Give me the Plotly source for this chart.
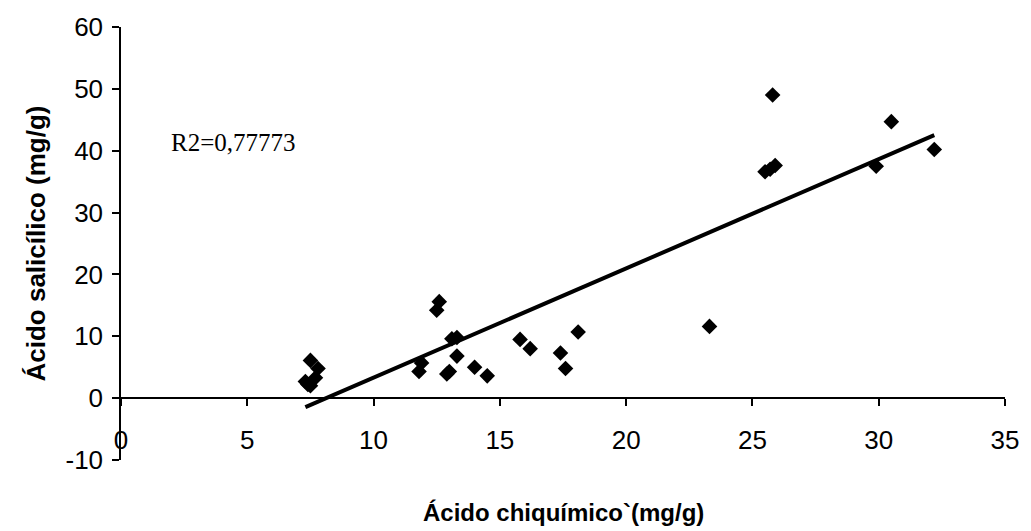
import numpy as np
import plotly.graph_objects as go

# Data
shikimic = [7.3, 7.4, 7.5, 7.7, 7.5, 7.8, 11.8, 11.9, 12.5, 12.6, 12.9, 13.0,
            13.1, 13.3, 13.3, 14.0, 14.5, 15.8, 16.2, 17.4, 17.6, 18.1, 23.3,
            25.5, 25.7, 25.8, 25.9, 29.9, 30.5, 32.2]
salicylic = [2.7, 2.2, 2.0, 3.3, 6.1, 4.8, 4.3, 5.7, 14.2, 15.6, 3.9, 4.3,
             9.6, 9.8, 6.8, 5.0, 3.6, 9.5, 8.0, 7.3, 4.8, 10.7, 11.6,
             36.6, 37.0, 49.0, 37.6, 37.5, 44.7, 40.2]
r2_label = "R2=0,77773"
x_ticks = [0, 5, 10, 15, 20, 25, 30, 35]
y_ticks = [-10, 0, 10, 20, 30, 40, 50, 60]
y_ticktext = ["-10", "0", "10", "20", "30", "40", "50", "60"]

xa = np.array(shikimic)
ya = np.array(salicylic)
slope, intercept = np.polyfit(xa, ya, 1)
fit_x = np.array([xa.min(), xa.max()])
fit_y = slope * fit_x + intercept

fig = go.Figure()
fig.add_trace(go.Scatter(
    x=fit_x, y=fit_y, mode="lines",
    line=dict(color="black", width=4), showlegend=False, hoverinfo="skip"))
fig.add_trace(go.Scatter(
    x=shikimic, y=salicylic, mode="markers",
    marker=dict(symbol="diamond", size=12, color="black"),
    showlegend=False))

fig.add_annotation(x=1.9, y=41.3, xref="x", yref="y", text=r2_label,
                   showarrow=False, xanchor="left", yanchor="middle",
                   font=dict(family="Liberation Serif", size=25, color="black"))

fig.add_annotation(x=0.5, y=0, xref="paper", yref="paper", yshift=-52,
                   text="<b>Ácido chiquímico`(mg/g)</b>", showarrow=False,
                   xanchor="center", yanchor="middle",
                   font=dict(family="Liberation Sans", size=24, color="black"))
fig.add_annotation(x=0, y=0.5, xref="paper", yref="paper", xshift=-86,
                   text="<b>Ácido salicílico (mg/g)</b>", showarrow=False,
                   textangle=-90, xanchor="center", yanchor="middle",
                   font=dict(family="Liberation Sans", size=26, color="black"))

fig.update_layout(
    width=1031, height=531,
    margin=dict(l=121, r=21, t=21, b=71),
    paper_bgcolor="white", plot_bgcolor="white",
    font=dict(family="Liberation Sans", size=26, color="black"),
    xaxis=dict(range=[0, 35], tickvals=x_ticks, showgrid=False, zeroline=False,
               showline=True, linecolor="black", linewidth=1.5,
               ticks="outside", ticklen=7, tickcolor="black", tickwidth=1.5,
               anchor="free", position=1/7, ticklabelstandoff=12),
    yaxis=dict(range=[-10, 60], tickvals=y_ticks, ticktext=y_ticktext,
               showgrid=False, zeroline=False,
               showline=True, linecolor="black", linewidth=1.5,
               ticks="outside", ticklen=7, tickcolor="black", tickwidth=1.5,
               domain=[0, 1], ticklabelstandoff=4),
)

fig.write_html("out.html")
